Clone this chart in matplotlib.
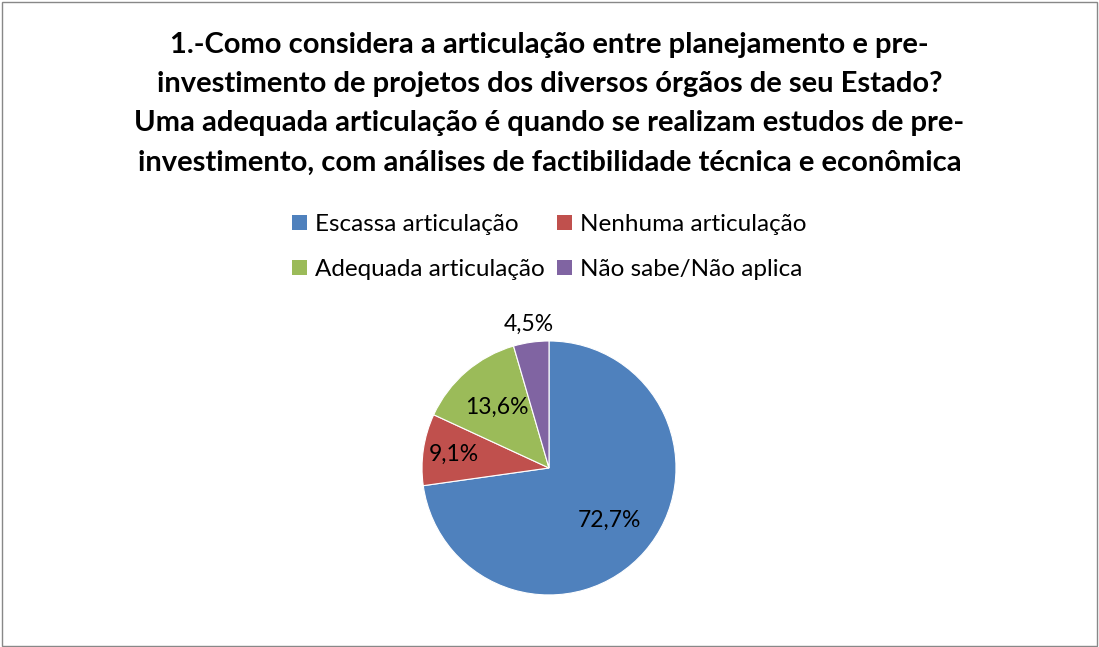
import numpy as np
import matplotlib.pyplot as plt
from matplotlib.patches import Patch

# data
categories = ['Escassa articulação', 'Nenhuma articulação',
              'Adequada articulação', 'Não sabe/Não aplica']
values = [72.7, 9.1, 13.6, 4.5]
pct_labels = ['72,7%', '9,1%', '13,6%', '4,5%']
title = ('1.-Como considera a articulação entre planejamento e pre-\n'
         'investimento de projetos dos diversos órgãos de seu Estado?\n'
         'Uma adequada articulação é quando se realizam estudos de pre-\n'
         'investimento, com análises de factibilidade técnica e econômica')

colors = ['#4F81BD', '#C0504D', '#9BBB59', '#8064A2']
label_r = [0.63, 0.76, 0.63, 1.14]

plt.rcParams['font.family'] = ['Lato', 'DejaVu Sans']

fig = plt.figure(figsize=(10.99, 6.47), dpi=100)
fig.patch.set_facecolor('white')

# outer border
fig.add_artist(plt.Rectangle((0.002, 0.002), 0.996, 0.995, transform=fig.transFigure,
                             fill=False, edgecolor='#888888', linewidth=1))

fig.text(0.5, 0.95, title, ha='center', va='top', fontsize=21,
         fontweight='bold', linespacing=1.62)

# legend, filled row by row like the original
order = [0, 2, 1, 3]
handles = [Patch(facecolor=colors[i], edgecolor='none') for i in order]
labels = [categories[i] for i in order]
leg = fig.legend(handles, labels, loc='center', bbox_to_anchor=(0.5, 0.618),
                 ncol=2, frameon=False, fontsize=17.5, handlelength=0.6,
                 handleheight=0.6, handletextpad=0.35, columnspacing=0.5,
                 labelspacing=1.0)

# pie
ax = fig.add_axes([0.384, 0.0804, 0.2311, 0.3926])
wedges, _ = ax.pie(values, colors=colors, startangle=90, counterclock=False,
                   wedgeprops=dict(edgecolor='white', linewidth=0.8))
ax.set_aspect('equal')
ax.set_xlim(-1, 1)
ax.set_ylim(-1, 1)

for w, lab, r in zip(wedges, pct_labels, label_r):
    ang = np.deg2rad((w.theta1 + w.theta2) / 2)
    ax.text(r * np.cos(ang), r * np.sin(ang), lab, ha='center', va='center',
            fontsize=16.5, color='black')

fig.savefig('out.png', dpi=100)
